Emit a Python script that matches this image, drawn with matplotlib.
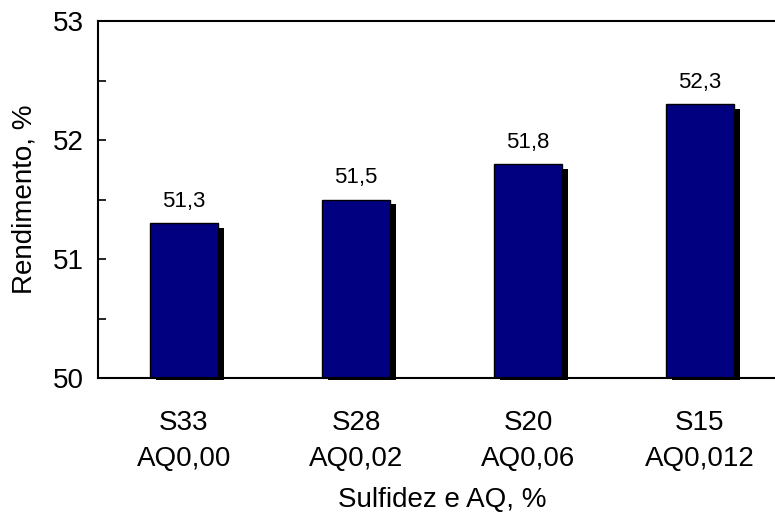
import matplotlib
matplotlib.use('Agg')
import matplotlib.pyplot as plt
import numpy as np

plt.rcParams['font.family'] = ['Liberation Sans', 'DejaVu Sans']

# dados
categorias = ['S33\nAQ0,00', 'S28\nAQ0,02', 'S20\nAQ0,06', 'S15\nAQ0,012']
rendimento = [51.3, 51.5, 51.8, 52.3]
rotulos = ['51,3', '51,5', '51,8', '52,3']

fig = plt.figure(figsize=(7.75, 5.14), dpi=100)
ax = fig.add_axes([98 / 775, 136 / 514, 688 / 775, 357 / 514])

x = np.arange(len(categorias))
v = np.array(rendimento)
base = 50
largura = 0.4

# sombra preta deslocada para a direita e para baixo
dx, dy = 0.035, 0.042
base_sombra = base - 0.015
ax.bar(x + dx, v - dy - base_sombra, bottom=base_sombra, width=largura,
       color='black', zorder=1, clip_on=False)
# barras
ax.bar(x, v - base, bottom=base, width=largura,
       color='#000080', edgecolor='black', linewidth=1, zorder=2)

for xi, val, r in zip(x, v, rotulos):
    ax.text(xi, val + 0.135, r, ha='center', va='baseline', fontsize=16)

ax.set_xlim(-0.5, 3.5)
ax.set_ylim(50, 53)
ax.set_yticks([50, 51, 52, 53])
ax.set_yticks([50.5, 51.5, 52.5], minor=True)
ax.tick_params(axis='y', which='both', direction='in', length=6, width=1.2,
               labelsize=20, pad=10)
ax.set_xticks(x)
ax.set_xticklabels(categorias, fontsize=20, linespacing=1.48)
ax.tick_params(axis='x', length=0, pad=23)

ax.spines['right'].set_visible(False)
for s in ['left', 'top', 'bottom']:
    ax.spines[s].set_linewidth(1.5)

ax.set_ylabel('Rendimento, %', fontsize=20, labelpad=11)
ax.set_xlabel('Sulfidez e AQ, %', fontsize=20, labelpad=11)

fig.savefig('out.png', dpi=100)
